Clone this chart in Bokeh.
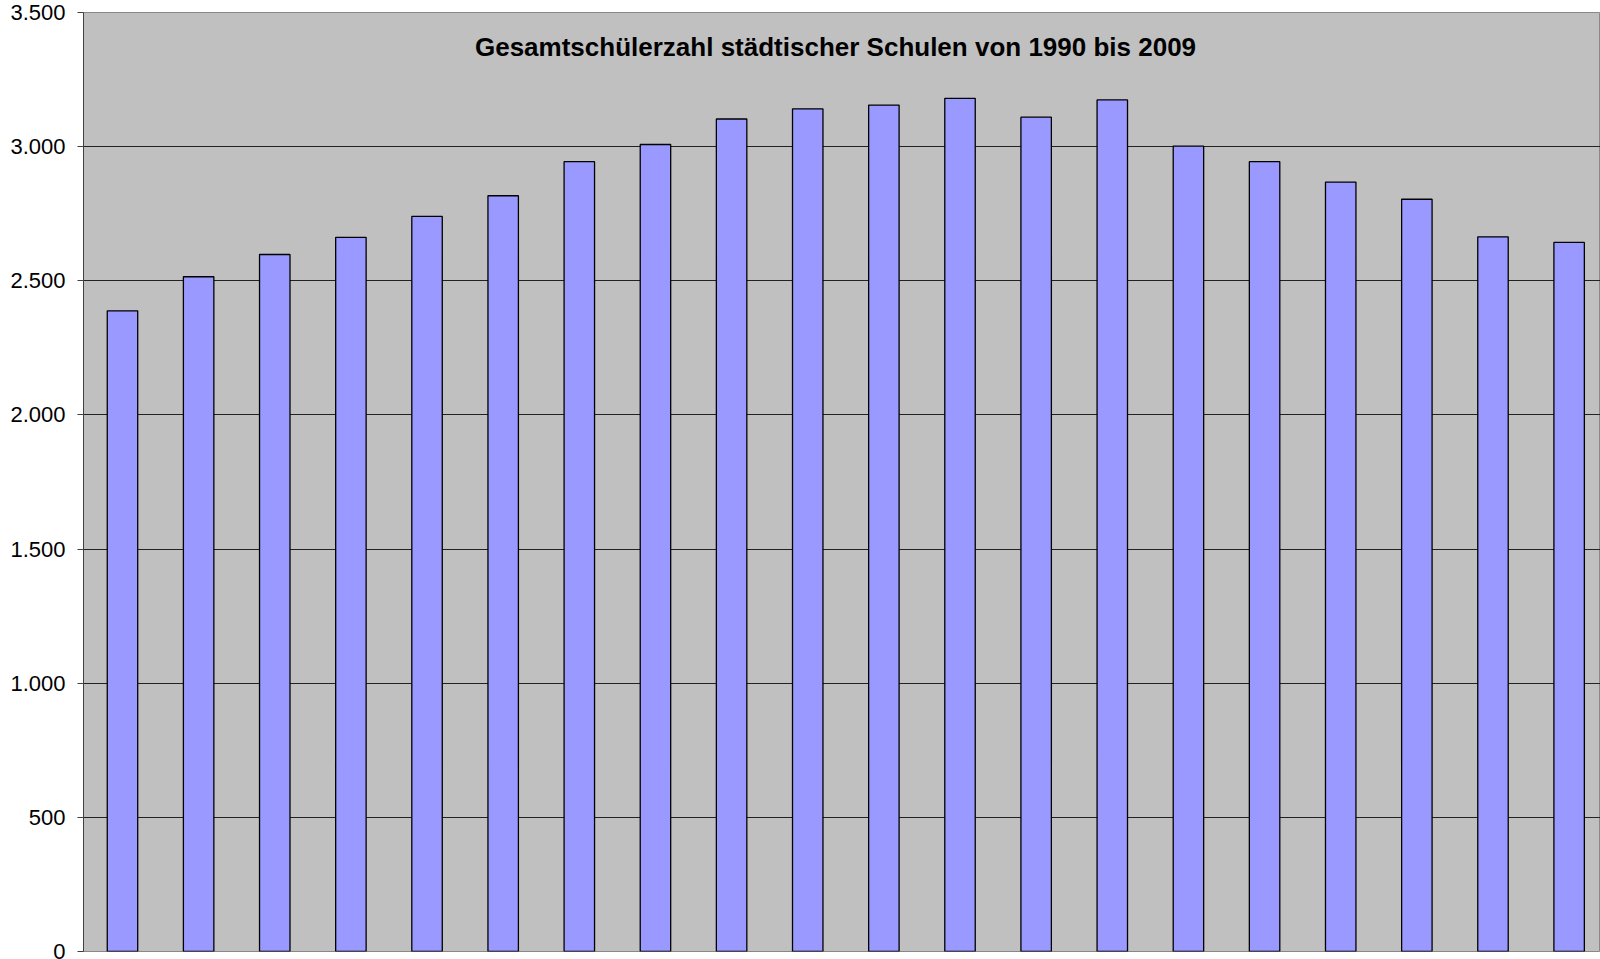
from bokeh.plotting import figure
from bokeh.models import Range1d, FixedTicker, Label, ColumnDataSource
from bokeh.embed import file_html
from bokeh.resources import INLINE

years = list(range(1990, 2010))
students = [2388, 2515, 2598, 2662, 2740, 2817, 2944, 3008, 3103, 3141,
            3155, 3180, 3110, 3174, 3002, 2944, 2868, 2804, 2664, 2643]
tick_values = [0, 500, 1000, 1500, 2000, 2500, 3000, 3500]
tick_labels = ["0", "500", "1.000", "1.500", "2.000", "2.500", "3.000", "3.500"]
title_text = "Gesamtschülerzahl städtischer Schulen von 1990 bis 2009"

src = ColumnDataSource(dict(year=years, value=students))

p = figure(width=1600, height=959, output_backend="svg", toolbar_location=None,
           x_range=Range1d(1989.488, 2009.412), y_range=Range1d(0, 3500),
           x_axis_location=None, min_border_left=83, min_border_top=12,
           min_border_bottom=8, min_border_right=0)
p.background_fill_color = "#C0C0C0"
p.border_fill_color = "white"
p.outline_line_color = "#888888"
p.outline_line_width = 1

p.vbar(x="year", top="value", width=0.4, bottom=0, source=src,
       fill_color="#9999FF", line_color="black", line_width=1.3)

p.xgrid.visible = False
p.ygrid.grid_line_color = "#222222"
p.ygrid.grid_line_width = 1

yax = p.yaxis[0]
yax.ticker = FixedTicker(ticks=tick_values)
yax.major_label_overrides = {v: s for v, s in zip(tick_values, tick_labels)}
yax.minor_tick_line_color = None
yax.major_tick_out = 6
yax.major_tick_in = 0
yax.major_tick_line_color = "#404040"
yax.axis_line_color = "#404040"
yax.major_label_standoff = 12
yax.major_label_text_font = "Liberation Sans"
yax.major_label_text_font_size = "22px"
yax.major_label_text_color = "black"

title = Label(x=1999.365, y=3371, text=title_text, text_align="center",
              text_baseline="middle", text_font="Liberation Sans",
              text_font_style="bold", text_font_size="26px", text_color="black")
p.add_layout(title)

open("out.html", "w").write(file_html(p, INLINE))
